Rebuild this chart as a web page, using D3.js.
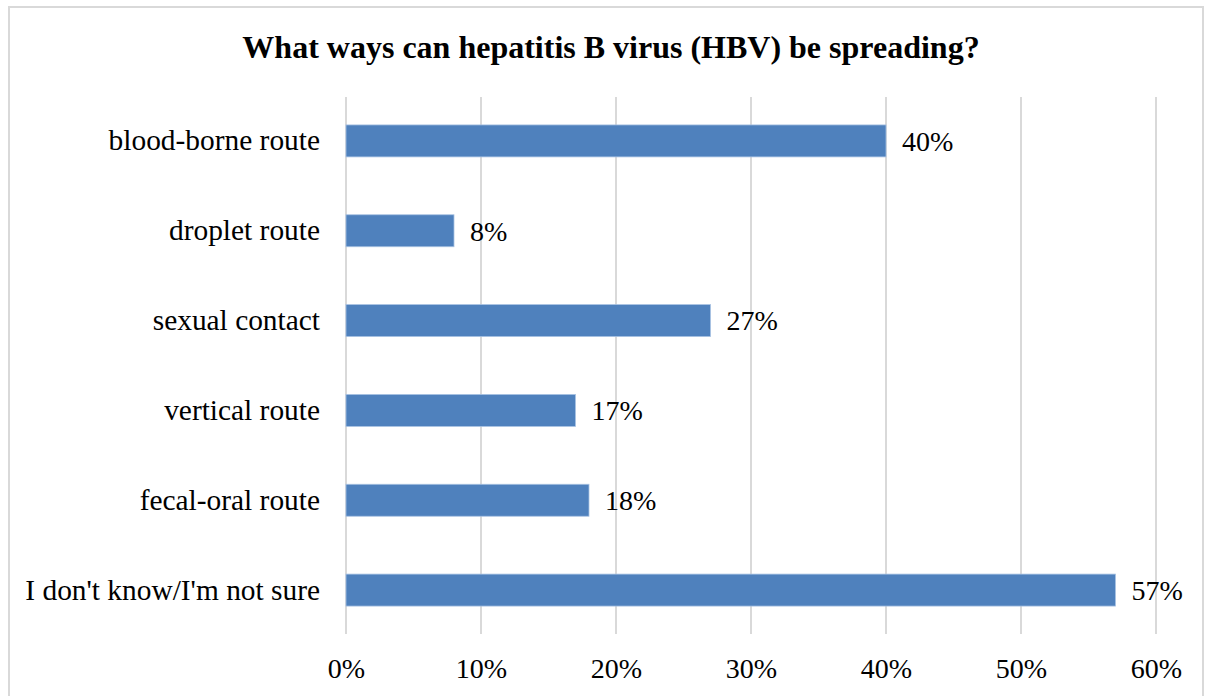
<!DOCTYPE html>
<html><head><meta charset="utf-8">
<script src="https://cdn.jsdelivr.net/npm/d3@7"></script>
<style>html,body{margin:0;padding:0;background:#fff;}svg{display:block;}</style>
</head><body>
<script>
const categories = ["blood-borne route","droplet route","sexual contact","vertical route","fecal-oral route","I don't know/I'm not sure"];
const values = [40, 8, 27, 17, 18, 57];
const tickValues = [0,10,20,30,40,50,60];
const title = "What ways can hepatitis B virus (HBV) be spreading?";

const W = 1210, H = 696;
const svg = d3.select("body").append("svg").attr("width", W).attr("height", H);
svg.append("rect").attr("x",9).attr("y",7).attr("width",1194).attr("height",700)
  .attr("fill","#fff").attr("stroke","#d9d9d9").attr("stroke-width",2);

const font = "'Liberation Serif','Times New Roman',serif";
const x = d3.scaleLinear().domain([0,60]).range([346,1156]);
const y = d3.scaleBand().domain(categories).range([96,635]).paddingInner(0.644).paddingOuter(0.322);

svg.append("text").attr("x",611).attr("y",58).attr("text-anchor","middle")
  .attr("font-family",font).attr("font-weight","bold").attr("font-size",32).attr("fill","#000").text(title);

const g = svg.append("g");
g.selectAll("line.grid").data(tickValues).enter().append("line")
  .attr("x1",d=>x(d)).attr("x2",d=>x(d)).attr("y1",97).attr("y2",634)
  .attr("stroke","#d9d9d9").attr("stroke-width",2);

const xAxis = d3.axisBottom(x).tickValues(tickValues).tickFormat(d=>d+"%").tickSize(0).tickPadding(0);
const ax = svg.append("g").attr("transform","translate(0,669)").call(xAxis);
ax.select(".domain").remove();
ax.selectAll("text").attr("font-family",font).attr("font-size",28).attr("fill","#000").attr("dy","0.32em");

g.selectAll("rect.bar").data(values).enter().append("rect")
  .attr("x",x(0)).attr("y",(d,i)=>y(categories[i])).attr("width",d=>x(d)-x(0)).attr("height",y.bandwidth())
  .attr("fill","#4f81bd").attr("stroke","#a9c2e3").attr("stroke-width",0.8);

const yAxis = d3.axisLeft(y).tickSize(0).tickPadding(26);
const ay = svg.append("g").attr("transform","translate(346,0)").call(yAxis);
ay.select(".domain").remove();
ay.selectAll("text").attr("font-family",font).attr("font-size",29.4).attr("fill","#000");

g.selectAll("text.val").data(values).enter().append("text")
  .attr("x",d=>x(d)+16).attr("y",(d,i)=>y(categories[i])+y.bandwidth()/2).attr("dy","0.35em")
  .attr("font-family",font).attr("font-size",28).attr("fill","#000").text(d=>d+"%");
</script>
</body></html>
